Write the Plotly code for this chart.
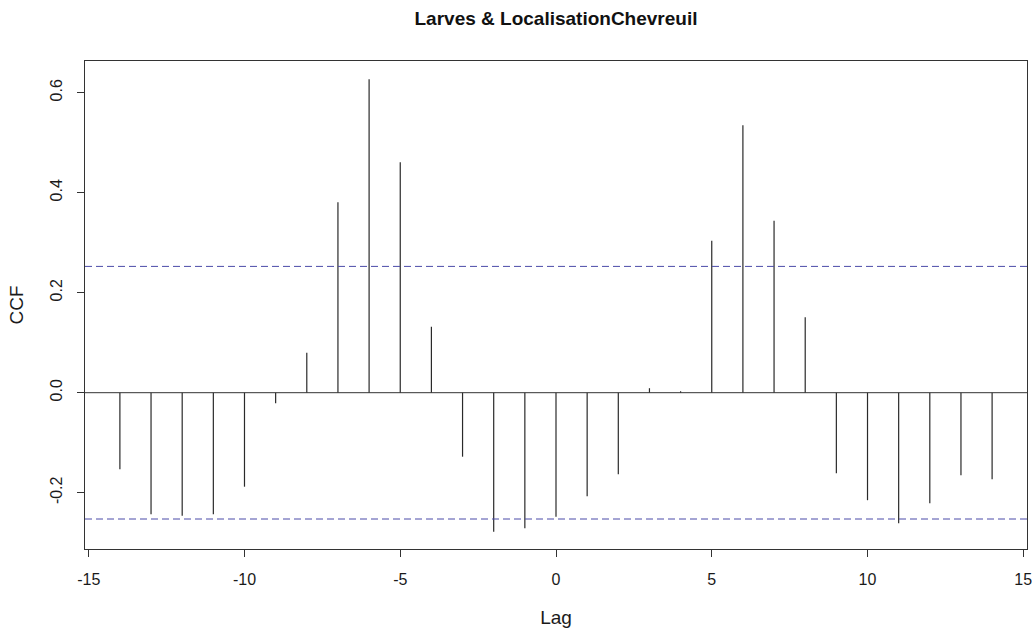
import plotly.graph_objects as go

title_text = "Larves & LocalisationChevreuil"
lags = list(range(-14, 15))
ccf_values = [
    -0.153, -0.243, -0.246, -0.243, -0.188, -0.021, 0.080, 0.381, 0.627, 0.461,
    0.132, -0.128, -0.278, -0.271, -0.248, -0.207, -0.163, 0.009, 0.003, 0.304,
    0.535, 0.344, 0.151, -0.161, -0.215, -0.261, -0.221, -0.165, -0.173,
]
ci_bound = 0.2526
x_ticks = [-15, -10, -5, 0, 5, 10, 15]
x_tick_labels = ["-15", "-10", "-5", "0", "5", "10", "15"]
y_ticks = [-0.2, 0.0, 0.2, 0.4, 0.6]
y_tick_labels = ["-0.2", "0.0", "0.2", "0.4", "0.6"]

# vertical spikes from 0 to each CCF value
xs, ys = [], []
for lag, v in zip(lags, ccf_values):
    xs += [lag, lag, None]
    ys += [0, v, None]

FONT = "Liberation Sans, Arial, Helvetica, sans-serif"

fig = go.Figure()
fig.add_trace(go.Scatter(x=xs, y=ys, mode="lines",
                         line=dict(color="#2a2a2a", width=1.2),
                         showlegend=False, hoverinfo="skip"))

fig.add_hline(y=0, line=dict(color="#333333", width=1))
fig.add_hline(y=ci_bound, line=dict(color="#4a4aa8", width=1, dash="7px,4px"))
fig.add_hline(y=-ci_bound, line=dict(color="#4a4aa8", width=1, dash="7px,4px"))

fig.update_layout(
    width=1032, height=628,
    margin=dict(l=85, r=5, t=61, b=79, autoexpand=False),
    paper_bgcolor="white", plot_bgcolor="white",
    font=dict(family=FONT, size=16, color="#1a1a1a"),
    title=dict(text="<b>" + title_text + "</b>", x=0.5, xref="paper",
               y=1 - 18 / 628, yref="container", yanchor="middle",
               xanchor="center", automargin=False,
               font=dict(size=19, color="#111111")),
    xaxis=dict(
        range=[-15.12, 15.12], tickvals=x_ticks, ticktext=x_tick_labels,
        ticks="outside", ticklen=7, automargin=False, ticklabeloverflow="allow",
        tickcolor="#333333", showline=True, linecolor="#333333", linewidth=1,
        mirror=True, showgrid=False, zeroline=False,
        title=dict(text="Lag", standoff=23), ticklabelstandoff=9,
    ),
    yaxis=dict(
        range=[-0.3126, 0.6634], tickvals=y_ticks, ticktext=y_tick_labels,
        ticks="outside", ticklen=7, tickcolor="#333333", tickangle=-90,
        automargin=False,
        showline=True, linecolor="#333333", linewidth=1, mirror=True,
        showgrid=False, zeroline=False,
        title=dict(text="CCF", standoff=18), ticklabelstandoff=9,
    ),
)

fig.write_html("out.html",
               config={"displayModeBar": False},
               post_script="document.body.style.margin='0';document.body.style.padding='0';")
